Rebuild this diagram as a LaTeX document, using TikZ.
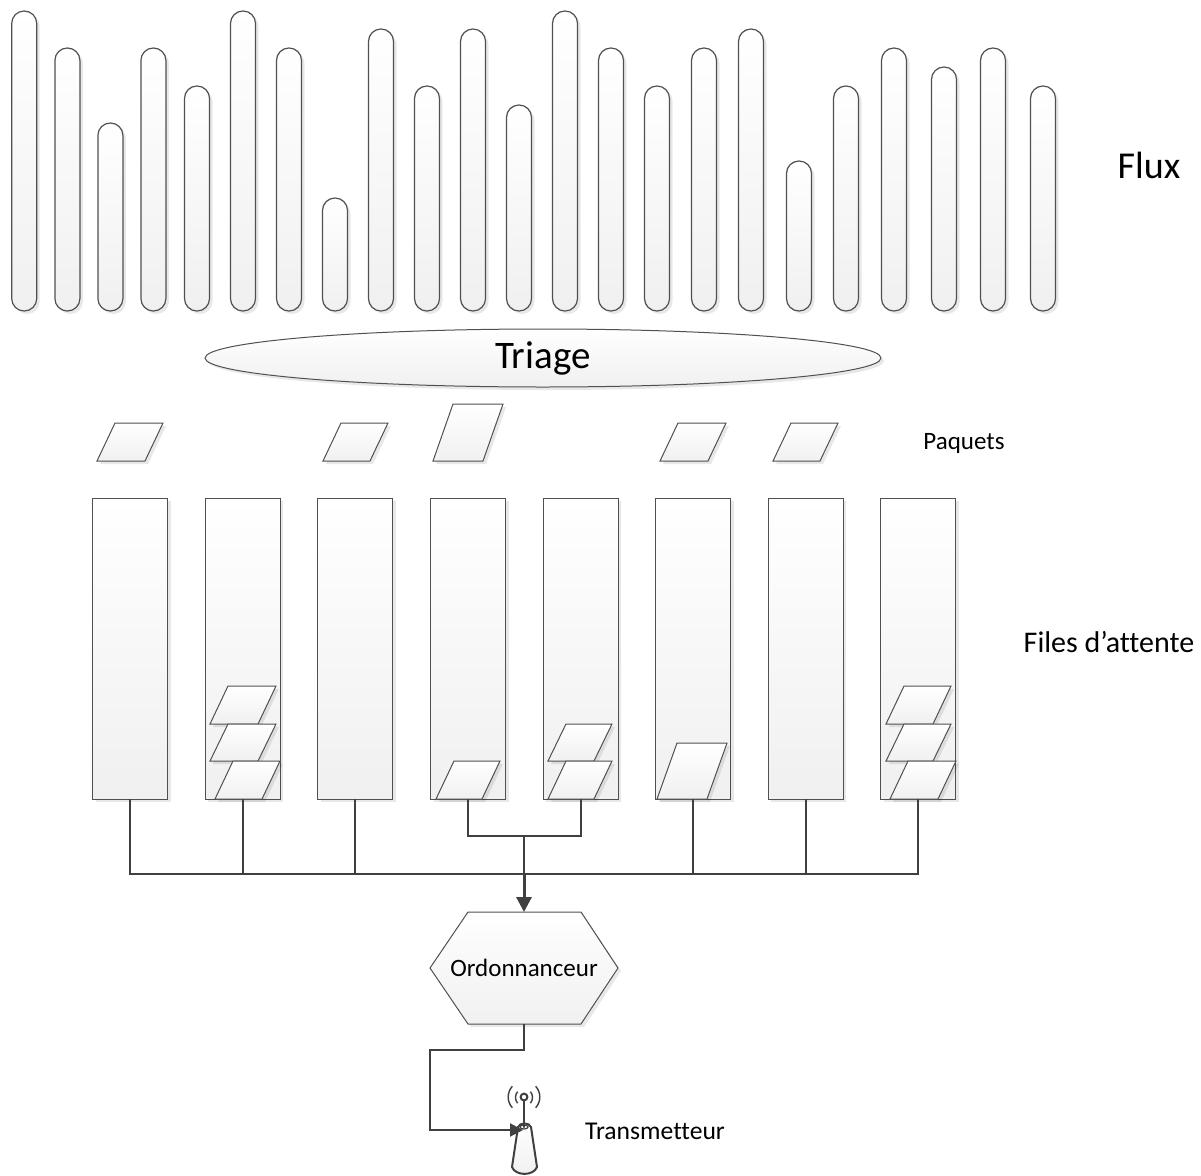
\documentclass[tikz,border=0pt]{standalone}
\usepackage{fontspec}
\setmainfont[Ligatures=NoCommon]{Carlito}
\usetikzlibrary{shapes.geometric,shapes.misc,shadows,arrows.meta,calc}
\definecolor{edgegray}{HTML}{505050}
\definecolor{conngray}{HTML}{404040}
\definecolor{shadegray}{HTML}{F0F0F0}
\tikzset{
  x=1pt,y=-1pt,
  softshadow/.style={general shadow={shadow xshift=3pt,shadow yshift=-3pt,fill=black,opacity=.09}},
  base/.style={draw=edgegray,line width=1pt,top color=white,bottom color=shadegray,inner sep=0pt,outer sep=0pt,softshadow},
  bar/.style={base,line width=1.2pt,rectangle,rounded corners=12.4pt,minimum width=25pt},
  queue/.style={base,rectangle,minimum width=75pt,minimum height=301pt},
  conn/.style={draw=conngray,line width=2pt},
  label/.style={inner sep=0pt,text=black,anchor=center},
  radio/.style={draw=conngray,line width=2pt,line cap=round},
  wave/.style={draw=conngray,line width=1.4pt},
}
% name, left, right, top, bottom, skew
\newcommand{\pkt}[6]{\path[base] (#2,#5) -- (#3-#6,#5) -- (#3,#4) -- (#2+#6,#4) -- cycle;
  \coordinate (#1) at ({(#2+#3)/2},{(#4+#5)/2});}
% name, centre x, top
\newcommand{\flowbar}[3]{\node[bar,minimum height={311pt-#3pt}] (#1) at (#2,{(311+#3)/2}) {};}
\begin{document}
\begin{tikzpicture}
\useasboundingbox (0,0) rectangle (1201,1175);
\flowbar{b1}{24.2}{11}
\flowbar{b2}{67.4}{48}
\flowbar{b3}{110.4}{123}
\flowbar{b4}{153.4}{48}
\flowbar{b5}{197}{86}
\flowbar{b6}{243}{11}
\flowbar{b7}{289}{48}
\flowbar{b8}{335}{198}
\flowbar{b9}{381}{29}
\flowbar{b10}{427}{86}
\flowbar{b11}{473}{29}
\flowbar{b12}{519}{105}
\flowbar{b13}{565}{11}
\flowbar{b14}{611}{48}
\flowbar{b15}{657}{86}
\flowbar{b16}{704}{48}
\flowbar{b17}{751}{29}
\flowbar{b18}{799}{161}
\flowbar{b19}{846}{86}
\flowbar{b20}{894}{48}
\flowbar{b21}{944}{67}
\flowbar{b22}{993}{48}
\flowbar{b23}{1043}{86}
\node[label,font=\fontsize{38}{38}\selectfont] (flux) at (1149,165) {Flux};
\node[base,ellipse,minimum width=676pt,minimum height=58pt,font=\fontsize{39}{39}\selectfont] (triage) at (543,358) {\raisebox{-2pt}{Triage}};
\pkt{p1}{97}{163}{423}{461}{18}
\pkt{p2}{323}{388}{423}{461}{18}
\pkt{p3}{433}{503}{404}{461}{20}
\pkt{p4}{660}{726}{423}{461}{18}
\pkt{p5}{773}{838}{423}{461}{18}
\node[label,font=\fontsize{25}{25}\selectfont] (paquets) at (964,443) {Paquets};
\node[queue] (q1) at (130.2,648.5) {};
\node[queue] (q2) at (242.6,648.5) {};
\node[queue] (q3) at (355.2,648.5) {};
\node[queue] (q4) at (468.2,648.5) {};
\node[queue] (q5) at (580.6,648.5) {};
\node[queue] (q6) at (693.2,648.5) {};
\node[queue] (q7) at (805.6,648.5) {};
\node[queue] (q8) at (918.2,648.5) {};
\pkt{s1}{210}{276}{686}{724}{18}
\pkt{s2}{210}{276}{724}{761}{18}
\pkt{s3}{215}{280}{761}{799}{18}
\pkt{s4}{436}{500}{761}{799}{18}
\pkt{s5}{548}{612}{724}{761}{18}
\pkt{s6}{548}{612}{761}{799}{18}
\pkt{s7}{657}{727}{743}{799}{20}
\pkt{s8}{886}{951}{686}{724}{18}
\pkt{s9}{886}{951}{724}{761}{18}
\pkt{s10}{890}{956}{761}{799}{18}
\node[label,font=\fontsize{30}{30}\selectfont] (files) at (1109,642) {Files d’attente};
\coordinate (bus) at (524,874);
\coordinate (mid) at (524,836);
\draw[conn] (q1.south) |- (bus);
\draw[conn] (q8.south) |- (bus);
\draw[conn] (q2.south) -- (q2.south |- bus);
\draw[conn] (q3.south) -- (q3.south |- bus);
\draw[conn] (q6.south) -- (q6.south |- bus);
\draw[conn] (q7.south) -- (q7.south |- bus);
\draw[conn] (q4.south) |- (mid);
\draw[conn] (q5.south) |- (mid);
\path[base] (468,912) -- (581,912) -- (618,968) -- (581,1024) -- (468,1024) -- (430,968) -- cycle;
\node[inner sep=0pt,outer sep=0pt,minimum width=188pt,minimum height=112pt,font=\fontsize{25}{25}\selectfont] (ord) at (524,968) {Ordonnanceur};
\draw[conn] (mid) -- (bus);
\draw[conn,line width=3pt,-{Triangle[width=15pt,length=15pt]}] (bus) -- (ord.north);
% transmitter
\coordinate (ant) at (524,1127);
\coordinate (antin) at (523,1130);
\coordinate (top) at (524,1097);
\shade[top color=white,bottom color=shadegray] (518,1127) -- (512,1167) to[out=-70,in=-110] (537,1167) -- (531,1127) to[out=110,in=70] cycle;
\draw[radio] (518,1127) -- (512,1167) to[out=-70,in=-110] (537,1167) -- (531,1127) to[out=110,in=70] cycle;
\draw[radio,line width=1.2pt,fill=white] (ant) ellipse (4pt and 2pt);
\draw[radio] (ant) -- (top);
\draw[radio,fill=white] (top) circle (3.4pt);
\draw[wave] (517.6,1091.6) arc[start angle=140,end angle=220,radius=9pt];
\draw[wave] (530.4,1091.6) arc[start angle=40,end angle=-40,radius=9pt];
\draw[wave] (512.3,1086.3) arc[start angle=138,end angle=222,radius=16pt];
\draw[wave] (535.7,1086.3) arc[start angle=42,end angle=-42,radius=16pt];
\node[label,font=\fontsize{25.6}{25.6}\selectfont] (trans) at (655,1131) {Transmetteur};
\draw[conn,-{Triangle[width=13pt,length=13pt]}] (ord.south) |- (430,1050) |- (antin);
\end{tikzpicture}
\end{document}
